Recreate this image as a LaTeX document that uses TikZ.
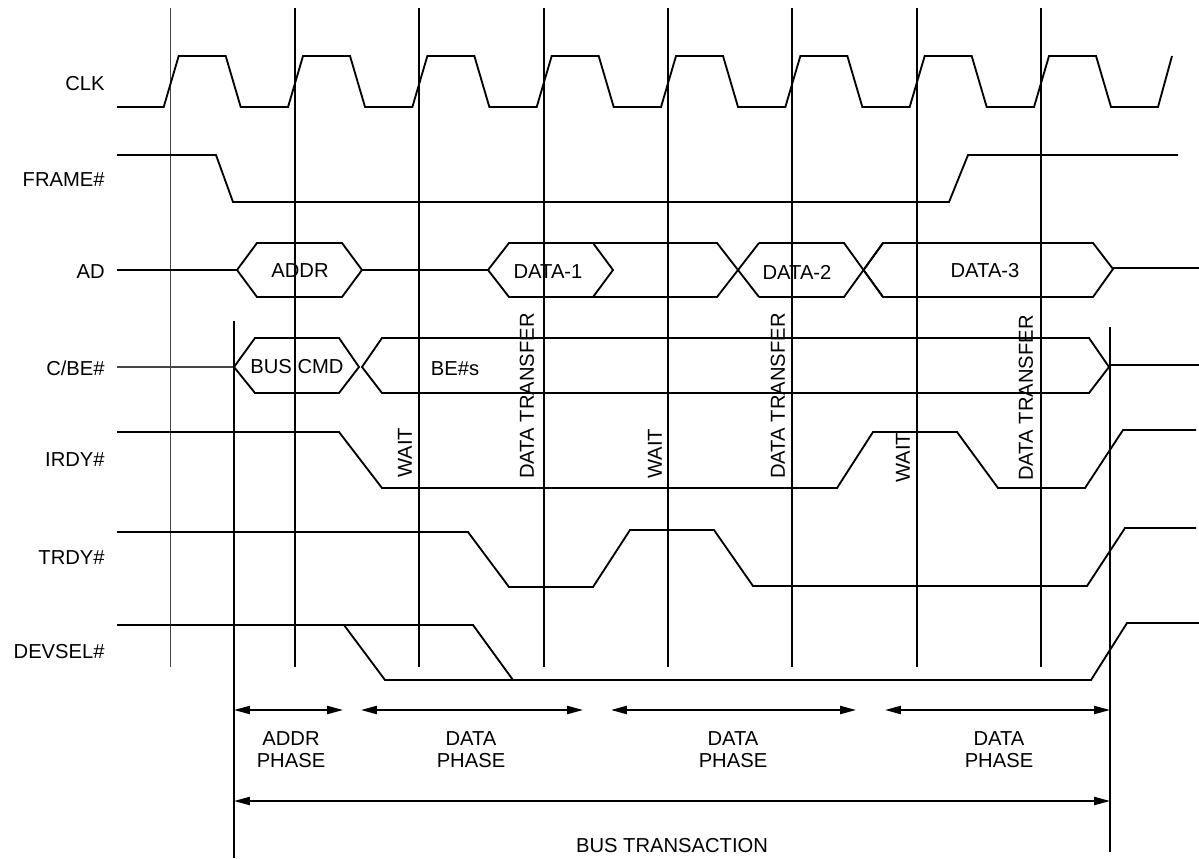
\documentclass[tikz,border=0pt]{standalone}
\usepackage{fontspec}
\setmainfont{Liberation Sans}
\usetikzlibrary{arrows.meta, positioning, calc}
\definecolor{wire}{RGB}{0,0,0}
\definecolor{thinwire}{RGB}{70,70,70}

\tikzset{
  sig/.style={line width=1.05pt, wire, line join=miter},
  thinsig/.style={line width=0.6pt, thinwire},
  edgeline/.style={line width=1pt, wire},
  siglabel/.style={anchor=east, inner sep=0pt, font=\fontsize{11.5}{12.5}\selectfont},
  buslabel/.style={inner sep=0pt, font=\fontsize{11.5}{12.5}\selectfont},
  vlabel/.style={rotate=90, anchor=west, inner sep=0pt, font=\fontsize{11.5}{12.5}\selectfont},
  phase/.style={line width=1pt, {Triangle[length=9pt,width=4.6pt]}-{Triangle[length=9pt,width=4.6pt]}},
  phaselabel/.style={align=center, inner sep=0pt, font=\fontsize{11.5}{12.5}\selectfont}
}

\begin{document}
\begin{tikzpicture}[x=0.02cm, y=-0.02cm]
        \useasboundingbox (0,0) rectangle (1199,858);

        % Signal names
        \node[siglabel] (clk) at (105,84) {CLK};
        \node[siglabel] (frame) at (105,180) {FRAME\#};
        \node[siglabel] (ad) at (105,272) {AD};
        \node[siglabel] (cbe) at (105,368) {C/BE\#};
        \node[siglabel] (irdy) at (105,460) {IRDY\#};
        \node[siglabel] (trdy) at (105,558) {TRDY\#};
        \node[siglabel] (devsel) at (105,652) {DEVSEL\#};

        % Clock edges
        \draw[thinsig] (170.7,8) -- (170.7,667);
        \foreach \i in {1,...,7}
            \draw[edgeline] ({170.7+124.33*\i},8) -- ({170.7+124.33*\i},667);
        \draw[edgeline] (234,321) -- (234,858);
        \draw[edgeline] (1110,327) -- (1110,852);

        % CLK
        \draw[sig] (117,107) foreach \i in {0,...,7} {
            -- ({163.7+124.33*\i},107) -- ({178.7+124.33*\i},56)
            -- ({225.7+124.33*\i},56) -- ({240.7+124.33*\i},107) }
            -- (1158,107) -- (1172,56);

        % FRAME#
        \draw[sig] (117,155) -- (216,155) -- (233,202) -- (949,202) -- (968,155) -- (1178,155);

        % AD
        \draw[sig] (117,270) -- (237,270);
        \draw[sig] (237,270) -- (257,243) -- (342,243) -- (362,270) -- (342,297) -- (257,297) -- cycle;
        \draw[sig] (362,270) -- (488,270);
        \draw[sig] (759,243) -- (717,297) -- (509,297) -- (488,270) -- (509,243) -- (717,243) -- (759,297);
        \draw[sig] (593,243) -- (613,270) -- (593,297);
        \draw[sig] (883,243) -- (844,297) -- (759,297);
        \draw[sig] (759,243) -- (844,243) -- (883,297);
        \draw[sig] (863.5,270) -- (883,243) -- (1093,243) -- (1113,269) -- (1093,297) -- (883,297) -- cycle;
        \draw[sig] (1113,268) -- (1199,268);
        \node[buslabel] (addr) at (300,271) {ADDR};
        \node[buslabel] (data1) at (548,272) {DATA-1};
        \node[buslabel] (data2) at (797,272) {DATA-2};
        \node[buslabel] (data3) at (985,271) {DATA-3};

        % C/BE#
        \draw[thinsig] (117,367) -- (234,367);
        \draw[sig] (234,367) -- (255,338) -- (339,338) -- (359,367) -- (339,393) -- (255,393) -- cycle;
        \draw[sig] (382,338) -- (362,367) -- (382,393) -- (1089,393) -- (1109,367) -- (1089,338) -- cycle;
        \draw[sig] (1109,365) -- (1199,365);
        \node[buslabel] (buscmd) at (297,367) {BUS CMD};
        \node[buslabel] (bes) at (455,369) {BE\#s};

        % IRDY#
        \draw[sig] (117,432) -- (339,432) -- (382,488) -- (837,488) -- (873,432) -- (957,432)
            -- (998,488) -- (1085,488) -- (1123,430) -- (1196,430);

        % TRDY#
        \draw[sig] (117,532) -- (468,532) -- (509,587) -- (593,587) -- (630,530) -- (714,530)
            -- (753,586) -- (1087,586) -- (1125,528) -- (1196,528);

        % DEVSEL#
        \draw[sig] (117,625) -- (473,625) -- (513,680) -- (1091,680) -- (1127,623) -- (1199,623);
        \draw[sig] (344,625) -- (385,680) -- (513,680);

        % Wait / transfer marks
        \node[vlabel] (wait1) at (405,478) {WAIT};
        \node[vlabel] (xfer1) at (527,479) {DATA TRANSFER};
        \node[vlabel] (wait2) at (655,479) {WAIT};
        \node[vlabel] (xfer2) at (778,479) {DATA TRANSFER};
        \node[vlabel] (wait3) at (903,483) {WAIT};
        \node[vlabel] (xfer3) at (1026,481) {DATA TRANSFER};

        % Phases
        \coordinate (ap-l) at (234,710);  \coordinate (ap-r) at (343,710);
        \coordinate (dp1-l) at (361,710); \coordinate (dp1-r) at (583,710);
        \coordinate (dp2-l) at (611,710); \coordinate (dp2-r) at (856,710);
        \coordinate (dp3-l) at (885,710); \coordinate (dp3-r) at (1110,710);
        \coordinate (bt-l) at (234,801);  \coordinate (bt-r) at (1110,801);
        \draw[phase] (ap-l) -- (ap-r);
        \draw[phase] (dp1-l) -- (dp1-r);
        \draw[phase] (dp2-l) -- (dp2-r);
        \draw[phase] (dp3-l) -- (dp3-r);
        \draw[phase] (bt-l) -- (bt-r);

        \node[phaselabel] (addrphase) at (291,750) {ADDR\\PHASE};
        \node[phaselabel] (dataphase1) at (471,750) {DATA\\PHASE};
        \node[phaselabel] (dataphase2) at (733,750) {DATA\\PHASE};
        \node[phaselabel] (dataphase3) at (999,750) {DATA\\PHASE};
        \node[buslabel] (bustrans) at (672,846) {BUS TRANSACTION};
    \end{tikzpicture}
\end{document}
